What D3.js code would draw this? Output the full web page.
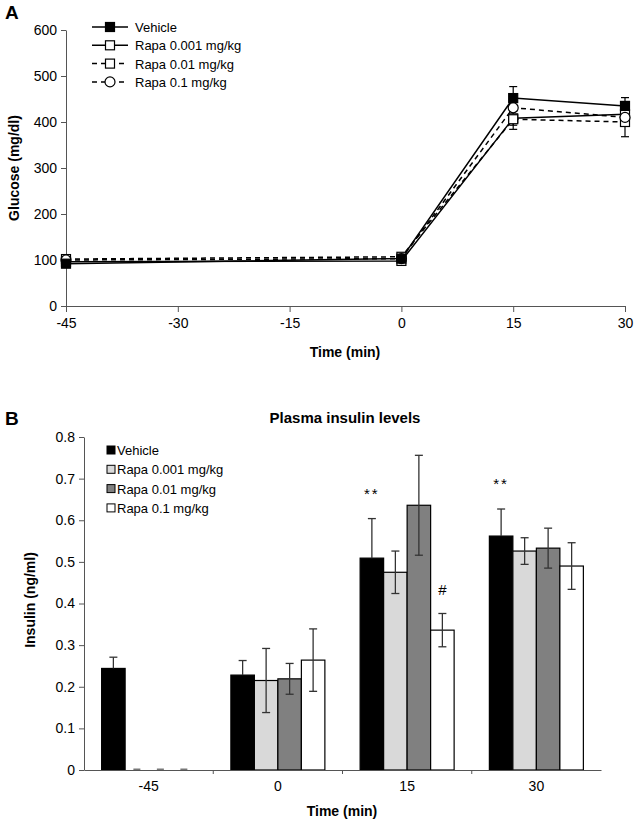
<!DOCTYPE html>
<html><head><meta charset="utf-8">
<script src="https://cdn.jsdelivr.net/npm/d3@7"></script>
<style>body{margin:0;background:#fff}svg{display:block;font-family:Arial,"Liberation Sans",sans-serif}</style>
</head><body><svg id="c" width="635" height="823"></svg>
<script>
// ---- Panel A data ----
const timesA = [-45, 0, 15, 30];
const xTicksA = [-45, -30, -15, 0, 15, 30];
const yTicksA = [0, 100, 200, 300, 400, 500, 600];
const seriesNames = ["Vehicle", "Rapa 0.001 mg/kg", "Rapa 0.01 mg/kg", "Rapa 0.1 mg/kg"];
const glucoseVehicle = [92, 103, 452, 435];
const glucoseRapa001 = [96, 98, 408, 417];
const glucoseRapa01 = [102, 107, 406, 400];
const glucoseRapa1 = [100, 103, 431, 410];
const glucoseErrVehicle = [8, 6, 25, 18];
const glucoseErrRapa001 = [6, 6, 15, 12];
const glucoseErrRapa01 = [6, 6, 22, 32];
const glucoseErrRapa1 = [6, 6, 15, 15];

// ---- Panel B data ----
const timesB = ["-45", "0", "15", "30"];
const yTicksB = [0, 0.1, 0.2, 0.3, 0.4, 0.5, 0.6, 0.7, 0.8];
const insulinVehicle = [0.244, 0.228, 0.509, 0.562];
const insulinRapa001 = [0, 0.215, 0.475, 0.526];
const insulinRapa01 = [0, 0.219, 0.636, 0.533];
const insulinRapa1 = [0, 0.264, 0.336, 0.490];
const insulinErrVehicle = [0.027, 0.035, 0.095, 0.065];
const insulinErrRapa001 = [0, 0.077, 0.051, 0.032];
const insulinErrRapa01 = [0, 0.037, 0.120, 0.048];
const insulinErrRapa1 = [0, 0.075, 0.040, 0.056];
const annotations = [{t:"15", s:0, text:"**"}, {t:"30", s:0, text:"**"}, {t:"15", s:3, text:"#"}];

const svg = d3.select("#c");
const FONT = "Arial, 'Liberation Sans', sans-serif";

// ================= Panel A =================
const xA = d3.scaleLinear().domain([-45, 30]).range([66, 625]);
const yA = d3.scaleLinear().domain([0, 600]).range([306, 30]);
const gA = svg.append("g");

gA.append("text").attr("x", 5).attr("y", 19).attr("font-size", 19).attr("font-weight", "bold").text("A");

const axA = gA.append("g").attr("transform", "translate(0,306)")
  .call(d3.axisBottom(xA).tickValues(xTicksA).tickSize(6).tickSizeOuter(0).tickFormat(d => String(d)));
const ayA = gA.append("g").attr("transform", "translate(66,0)")
  .call(d3.axisLeft(yA).tickValues(yTicksA).tickSize(5).tickSizeOuter(0).tickFormat(d => String(d)));
[axA, ayA].forEach(a => {
  a.selectAll("path,line").attr("stroke", "#555").attr("stroke-width", 1);
  a.selectAll("text").attr("font-size", 14).attr("fill", "#000").attr("font-family", FONT);
});
axA.selectAll("text").attr("dy", "0.9em");
ayA.selectAll("text").attr("dx", "-1px");

gA.append("text").attr("x", 345).attr("y", 357).attr("text-anchor", "middle").attr("font-size", 14).attr("font-weight", "bold").text("Time (min)");
gA.append("text").attr("transform", "translate(19,168) rotate(-90)").attr("text-anchor", "middle").attr("font-size", 14).attr("font-weight", "bold").text("Glucose (mg/dl)");

const seriesA = [
  {vals: glucoseVehicle, err: glucoseErrVehicle, dash: null, marker: "square", fill: "#000", dir: "up"},
  {vals: glucoseRapa001, err: glucoseErrRapa001, dash: null, marker: "square", fill: "#fff", dir: "both"},
  {vals: glucoseRapa01, err: glucoseErrRapa01, dash: "5,4", marker: "square", fill: "#fff", dir: "down"},
  {vals: glucoseRapa1, err: glucoseErrRapa1, dash: "5,4", marker: "circle", fill: "#fff", dir: "both"}
];
const line = d3.line().x((d, i) => xA(timesA[i])).y(d => yA(d));

seriesA.forEach(s => {
  s.vals.forEach((v, i) => {
    const x = xA(timesA[i]);
    const top = s.dir === "down" ? v : v + s.err[i];
    const bot = s.dir === "up" ? v : v - s.err[i];
    gA.append("line").attr("x1", x).attr("x2", x).attr("y1", yA(top)).attr("y2", yA(bot)).attr("stroke", "#000").attr("stroke-width", 1.2);
    if (s.dir !== "down") gA.append("line").attr("x1", x - 4).attr("x2", x + 4).attr("y1", yA(top)).attr("y2", yA(top)).attr("stroke", "#000").attr("stroke-width", 1.2);
    if (s.dir !== "up") gA.append("line").attr("x1", x - 4).attr("x2", x + 4).attr("y1", yA(bot)).attr("y2", yA(bot)).attr("stroke", "#000").attr("stroke-width", 1.2);
  });
});
seriesA.forEach(s => {
  gA.append("path").datum(s.vals).attr("d", line).attr("fill", "none").attr("stroke", "#000")
    .attr("stroke-width", 1.5).attr("stroke-dasharray", s.dash);
});
function drawMarker(g, type, fill, x, y) {
  if (type === "square") g.append("rect").attr("x", x - 4.5).attr("y", y - 4.5).attr("width", 9).attr("height", 9).attr("fill", fill).attr("stroke", "#000").attr("stroke-width", 1.2);
  else g.append("circle").attr("cx", x).attr("cy", y).attr("r", 5).attr("fill", fill).attr("stroke", "#000").attr("stroke-width", 1.2);
}
[1, 2, 3, 0].forEach(k => {
  const s = seriesA[k];
  s.vals.forEach((v, i) => drawMarker(gA, s.marker, s.fill, xA(timesA[i]), yA(v)));
});
seriesA.forEach((s, k) => {
  const y = 27 + k * 18.3;
  gA.append("line").attr("x1", 92).attr("x2", 128).attr("y1", y).attr("y2", y).attr("stroke", "#000").attr("stroke-width", 1.5).attr("stroke-dasharray", s.dash);
  drawMarker(gA, s.marker, s.fill, 110, y);
  gA.append("text").attr("x", 135).attr("y", y + 5).attr("font-size", 13).text(seriesNames[k]);
});

// ================= Panel B =================
const gB = svg.append("g");
const xB = d3.scaleBand().domain(timesB).range([84, 601]).paddingInner(0).paddingOuter(0);
const yB = d3.scaleLinear().domain([0, 0.8]).range([770, 437]);
const seriesB = [
  {vals: insulinVehicle, err: insulinErrVehicle, fill: "#000", dir: "up"},
  {vals: insulinRapa001, err: insulinErrRapa001, fill: "#d9d9d9", dir: "both"},
  {vals: insulinRapa01, err: insulinErrRapa01, fill: "#808080", dir: "both"},
  {vals: insulinRapa1, err: insulinErrRapa1, fill: "#fff", dir: "both"}
];
const xSub = d3.scaleBand().domain(d3.range(4)).range([0, 94]);
const groupOffset = (xB.bandwidth() - 94) / 2;

gB.append("text").attr("x", 5).attr("y", 425).attr("font-size", 19).attr("font-weight", "bold").text("B");
gB.append("text").attr("x", 345).attr("y", 423).attr("text-anchor", "middle").attr("font-size", 15).attr("font-weight", "bold").text("Plasma insulin levels");

seriesB.forEach((s, k) => {
  s.vals.forEach((v, i) => {
    const x0 = xB(timesB[i]) + groupOffset + xSub(k);
    if (v > 0) {
      gB.append("rect").attr("x", x0).attr("y", yB(v)).attr("width", xSub.bandwidth()).attr("height", yB(0) - yB(v))
        .attr("fill", s.fill).attr("stroke", "#000").attr("stroke-width", 1.2);
    } else {
      const cx = x0 + xSub.bandwidth() / 2;
      gB.append("line").attr("x1", cx - 3.5).attr("x2", cx + 3.5).attr("y1", yB(0) - 0.5).attr("y2", yB(0) - 0.5)
        .attr("stroke", "#777").attr("stroke-width", 2);
    }
  });
});
seriesB.forEach((s, k) => {
  s.vals.forEach((v, i) => {
    if (!s.err[i]) return;
    const x = xB(timesB[i]) + groupOffset + xSub(k) + xSub.bandwidth() / 2;
    const top = v + s.err[i];
    const bot = s.dir === "up" ? v : v - s.err[i];
    const col = "#333";
    gB.append("line").attr("x1", x).attr("x2", x).attr("y1", yB(top)).attr("y2", yB(bot)).attr("stroke", col).attr("stroke-width", 1.3);
    gB.append("line").attr("x1", x - 4).attr("x2", x + 4).attr("y1", yB(top)).attr("y2", yB(top)).attr("stroke", col).attr("stroke-width", 1.3);
    if (s.dir !== "up") gB.append("line").attr("x1", x - 4).attr("x2", x + 4).attr("y1", yB(bot)).attr("y2", yB(bot)).attr("stroke", col).attr("stroke-width", 1.3);
  });
});
annotations.forEach(a => {
  const i = timesB.indexOf(a.t);
  const x = xB(a.t) + groupOffset + xSub(a.s) + xSub.bandwidth() / 2;
  const s = seriesB[a.s];
  const y = yB(s.vals[i] + s.err[i]) - (a.text === "#" ? 18 : 20);
  gB.append("text").attr("x", x).attr("y", y).attr("text-anchor", "middle").attr("font-size", 15)
    .attr("letter-spacing", a.text === "**" ? 2 : 0).text(a.text);
});

const axB = gB.append("g").attr("transform", "translate(0,770)")
  .call(d3.axisBottom(xB).tickSize(0).tickSizeOuter(0));
axB.selectAll(".tick line").remove();
d3.range(1, timesB.length).forEach(i => {
  const x = xB(timesB[i]);
  axB.append("line").attr("x1", x).attr("x2", x).attr("y1", 0).attr("y2", 4).attr("stroke", "#aaa");
});
const ayB = gB.append("g").attr("transform", "translate(84,0)")
  .call(d3.axisLeft(yB).tickValues(yTicksB).tickSize(5).tickSizeOuter(0).tickFormat(d => d === 0 ? "0" : d3.format(".1f")(d)));
[axB, ayB].forEach(a => {
  a.selectAll("path,line").attr("stroke", "#555").attr("stroke-width", 1);
  a.selectAll("text").attr("font-size", 14).attr("fill", "#000").attr("font-family", FONT);
});
axB.selectAll("text").attr("dy", "1.25em");
ayB.selectAll("text").attr("dx", "-1px");

gB.append("text").attr("x", 342).attr("y", 816).attr("text-anchor", "middle").attr("font-size", 14).attr("font-weight", "bold").text("Time (min)");
gB.append("text").attr("transform", "translate(35,600) rotate(-90)").attr("text-anchor", "middle").attr("font-size", 14).attr("font-weight", "bold").text("Insulin (ng/ml)");

seriesB.forEach((s, k) => {
  const y = 450 + k * 19.3;
  gB.append("rect").attr("x", 107).attr("y", y - 4).attr("width", 8).attr("height", 8).attr("fill", s.fill).attr("stroke", "#000").attr("stroke-width", 1);
  gB.append("text").attr("x", 117).attr("y", y + 5).attr("font-size", 13).text(seriesNames[k]);
});
</script></body></html>
